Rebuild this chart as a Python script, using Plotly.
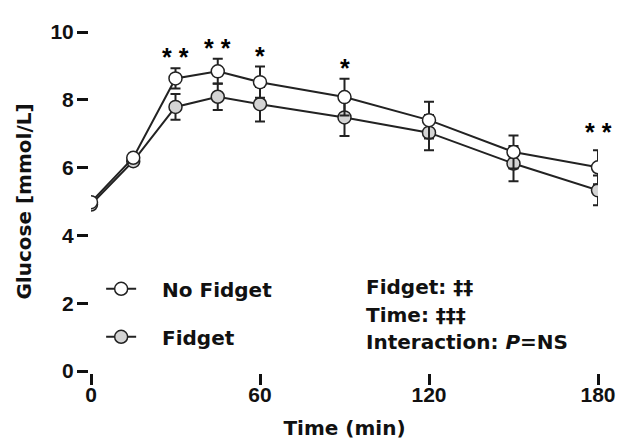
import plotly.graph_objects as go

time_min = [0, 15, 30, 45, 60, 90, 120, 150, 180]
no_fidget = [4.98, 6.29, 8.63, 8.84, 8.52, 8.08, 7.40, 6.46, 6.01]
no_fidget_err = [0.10, 0.12, 0.30, 0.37, 0.46, 0.54, 0.54, 0.49, 0.50]
fidget = [4.91, 6.19, 7.79, 8.09, 7.87, 7.48, 7.03, 6.12, 5.33]
fidget_err = [0.10, 0.12, 0.38, 0.39, 0.51, 0.55, 0.52, 0.52, 0.44]

star_x = [30, 45, 60, 90, 180]
star_y = [9.35, 9.62, 9.38, 9.03, 7.13]
star_labels = ["* *", "* *", "*", "*", "* *"]

x_ticks = [0, 60, 120, 180]
y_ticks = [0, 2, 4, 6, 8, 10]

stats_lines = ["Fidget: \u2021\u2021", "Time: \u2021\u2021\u2021", "Interaction: <i>P</i>=NS"]

TEXT_FONT = "DejaVu Sans, Verdana, sans-serif"
TICK_FONT = "Liberation Sans, Arial, sans-serif"
INK = "#111111"

# plot area geometry (px) used to place the text block
L, R, T, B, W, H = 91, 19, 32, 71, 617, 442
PW, PH = W - L - R, H - T - B

series = [
    ("No Fidget", no_fidget, no_fidget_err, "white", 2),
    ("Fidget", fidget, fidget_err, "#d4d4d4", 1),
]

fig = go.Figure()
for name, vals, errs, fill, z in series:
    style = dict(line=dict(color="#222222", width=2),
                 marker=dict(size=13, color=fill, line=dict(color="#222222", width=1.5)))
    fig.add_trace(go.Scatter(
        x=time_min, y=vals, name=name, mode="lines+markers", showlegend=False,
        error_y=dict(type="data", array=errs, color="#222222", thickness=2, width=5),
        cliponaxis=False, zorder=z, **style,
    ))
    # legend entry (no error bars)
    fig.add_trace(go.Scatter(
        x=[None], y=[None], name="\u00a0\u00a0\u00a0" + name, mode="lines+markers",
        legendgroup=name, showlegend=True, **style,
    ))

for sx, sy, st in zip(star_x, star_y, star_labels):
    fig.add_annotation(x=sx, y=sy, text=st, showarrow=False, xanchor="center", yanchor="middle",
                       yshift=-3, font=dict(family=TICK_FONT, size=25, color="#000000", weight="bold"))

line_centers_px = [286.5, 314.5, 341.5]
for txt, yc in zip(stats_lines, line_centers_px):
    fig.add_annotation(x=(364 - L) / PW, y=(H - B - yc) / PH, xref="paper", yref="paper", text=txt,
                       showarrow=False, xanchor="left", yanchor="middle", align="left",
                       font=dict(family=TEXT_FONT, size=20, color=INK, weight="bold"))

axis_common = dict(
    showline=True, linecolor=INK, linewidth=3, ticks="outside", ticklen=11, tickwidth=3,
    tickcolor=INK, showgrid=False, zeroline=False, mirror=False, automargin=False,
    layer="below traces",
    tickfont=dict(family=TICK_FONT, size=21, color=INK, weight="bold"),
)
title_font = dict(family=TEXT_FONT, size=20, color=INK, weight="bold")

fig.update_layout(
    width=W, height=H,
    margin=dict(l=L, r=R, t=T, b=B),
    paper_bgcolor="white", plot_bgcolor="white",
    xaxis=dict(range=[0, 180], tickvals=x_ticks, ticklabelstandoff=-8,
               title=dict(text="Time (min)", font=title_font, standoff=16), **axis_common),
    yaxis=dict(range=[0, 10], tickvals=y_ticks, ticklabelstandoff=-1,
               title=dict(text="Glucose [mmol/L]", font=title_font, standoff=14), **axis_common),
    legend=dict(x=0.02, y=0.30, xanchor="left", yanchor="top", traceorder="grouped",
                tracegroupgap=19, itemsizing="trace", bgcolor="rgba(0,0,0,0)",
                font=dict(family=TEXT_FONT, size=20, color=INK, weight="bold")),
    showlegend=True,
)

fig.write_html("out.html")
